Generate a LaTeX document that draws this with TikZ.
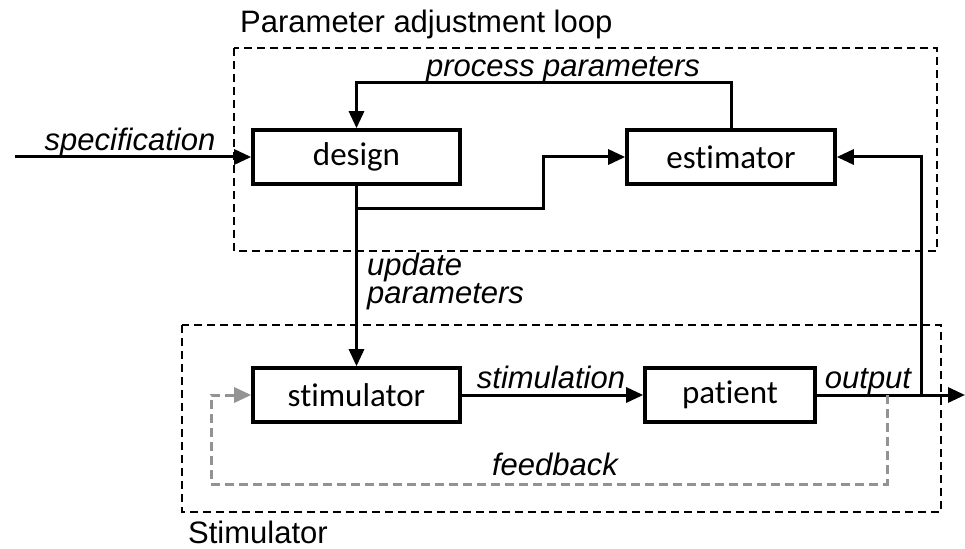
\documentclass[tikz,border=0pt]{standalone}
\usepackage{fontspec}
\setmainfont{Liberation Sans}
\newfontfamily\boxfont[Ligatures={NoCommon,NoRequired,NoContextual}]{Carlito}
\usetikzlibrary{calc,positioning}
\usetikzlibrary{arrows.meta}
\tikzset{>={Triangle[width=15pt,length=17pt]}}

\begin{document}
\begin{tikzpicture}[x=1pt,y=-1pt]
          \tikzstyle{bnode} = [draw=black, line width=3.6pt, rectangle, minimum height=54pt, inner sep=0pt, font=\boxfont\fontsize{33}{36}\selectfont]
          \tikzstyle{lbl} = [inner sep=0pt, anchor=base, font=\itshape\fontsize{31}{28}\selectfont]
          \tikzstyle{ttl} = [inner sep=0pt, anchor=base west, font=\fontsize{31}{36}\selectfont]
          \tikzstyle{frame} = [draw=black, line width=2.2pt, dash pattern=on 8pt off 5pt]
          \tikzstyle{conn} = [line width=3pt]
          \tikzstyle{fb} = [draw=gray!85, line width=3pt, dash pattern=on 9pt off 5pt]

          \useasboundingbox (0,0) rectangle (965,548);

          % loops
          \draw[frame] (234,48) rectangle (937,251);
          \draw[frame] (182,325) rectangle (941,512);
          \node[ttl] (tloop) at (240,33) {Parameter adjustment loop};
          \node[ttl] (tstim) at (188,543) {Stimulator};

          \node[bnode, minimum width=207pt] (des) at (356.5,157) {design};
          \node[bnode, minimum width=208pt] (est) at (731,157) {estimator};
          \node[bnode, minimum width=207pt] (stim) at (356.5,395) {stimulator};
          \node[bnode, minimum width=170pt] (pat) at (730,395) {patient};

          \coordinate (spec) at (15,157);
          \coordinate (pp) at (731,83);
          \coordinate (mid) at (543,208);
          \coordinate (tap) at (921,395);
          \coordinate (fbtap) at (887,395);
          \coordinate (fbl) at (211,484);
          \coordinate (out) at (965,395);

          \draw[conn,->] (spec) -- (des);
          \draw[conn,->] (est.north) -- (pp) -| (des.north);
          \draw[conn,->] (des.south) |- (mid) |- (est.west);
          \draw[conn,->] (des.south) -- (stim.north);
          \draw[conn,->] (stim) -- (pat);
          \draw[conn,->] (pat) -- (out);
          \draw[conn,->] (tap) |- (est.east);
          \draw[fb,-{Triangle[width=15pt,length=17pt]},gray!85] (fbtap) |- (fbl) |- (stim.west);

          \node[lbl] (lspec) at (130,150) {specification};
          \node[lbl] (lpp) at (563,77) {process parameters};
          \node[lbl, anchor=base west, align=left] (lupd) at (367,303) {update\\parameters};
          \node[lbl] (lstim) at (551,388) {stimulation};
          \node[lbl] (lout) at (868,388) {output};
          \node[lbl] (lfb) at (555,475) {feedback};
        \end{tikzpicture}
\end{document}
